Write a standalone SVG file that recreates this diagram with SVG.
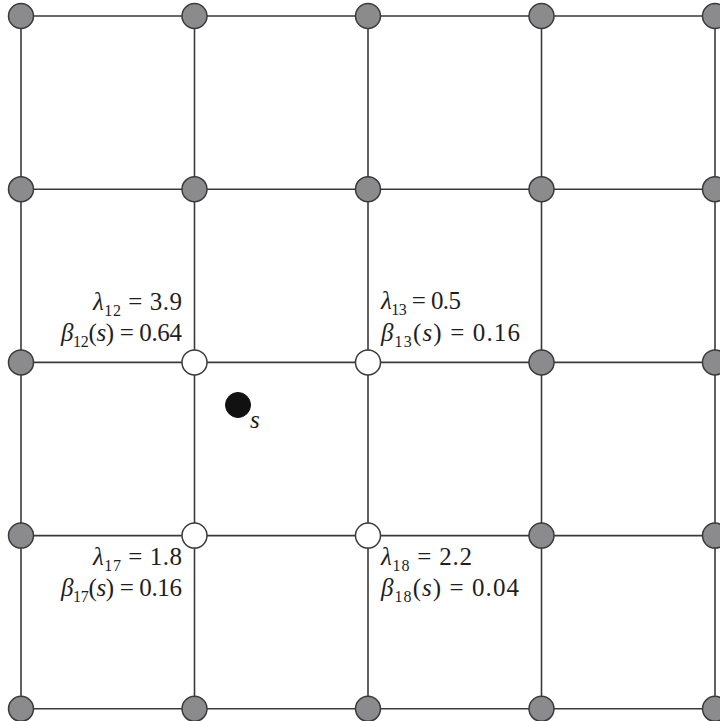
<svg xmlns="http://www.w3.org/2000/svg" width="720" height="721" viewBox="0 0 720 721">
<style>
.ln{stroke:#3a3a3a;stroke-width:1.6;fill:none}
.g{fill:#8b8b8d;stroke:#3a3a3a;stroke-width:1.5}
.w{fill:#fff;stroke:#3a3a3a;stroke-width:1.5}
.b{fill:#111;stroke:#111;stroke-width:1}
.t{font-family:"Liberation Serif","Times New Roman",serif;font-size:25px;fill:#1e1e1e}
.i{font-style:italic}
.sub{font-size:16px}
</style>
<rect width="720" height="721" fill="#fff"/>
<g id="connectors">
<path class="ln" d="M21 16H715M21 189.2H715M21 362.4H715M21 535.6H715M21 708.8H715"/>
<path class="ln" d="M21 16V708.8M194.5 16V708.8M368 16V708.8M541.5 16V708.8M715 16V708.8"/>
</g>
<g id="r0">
<circle id="n0" class="g" cx="21" cy="16" r="12.5"/>
<circle id="n1" class="g" cx="194.5" cy="16" r="12.5"/>
<circle id="n2" class="g" cx="368" cy="16" r="12.5"/>
<circle id="n3" class="g" cx="541.5" cy="16" r="12.5"/>
<circle id="n4" class="g" cx="715" cy="16" r="12.5"/>
</g>
<g id="r1">
<circle id="n5" class="g" cx="21" cy="189.2" r="12.5"/>
<circle id="n6" class="g" cx="194.5" cy="189.2" r="12.5"/>
<circle id="n7" class="g" cx="368" cy="189.2" r="12.5"/>
<circle id="n8" class="g" cx="541.5" cy="189.2" r="12.5"/>
<circle id="n9" class="g" cx="715" cy="189.2" r="12.5"/>
</g>
<g id="r2">
<circle id="n10" class="g" cx="21" cy="362.4" r="12.5"/>
<g id="n12"><circle class="w" cx="194.5" cy="362.4" r="12.5"/>
<text class="t" x="93" y="310" textLength="89" lengthAdjust="spacing"><tspan class="i">λ</tspan><tspan class="sub" dy="6">12</tspan><tspan dy="-6"> = 3.9</tspan></text>
<text class="t" x="61" y="341" textLength="121" lengthAdjust="spacing"><tspan class="i">β</tspan><tspan class="sub" dy="6">12</tspan><tspan dy="-6">(</tspan><tspan class="i">s</tspan>) = 0.64</text>
</g>
<g id="n13"><circle class="w" cx="368" cy="362.4" r="12.5"/>
<text class="t" x="381" y="309" textLength="80" lengthAdjust="spacing"><tspan class="i">λ</tspan><tspan class="sub" dy="6">13</tspan><tspan dy="-6"> = 0.5</tspan></text>
<text class="t" x="381" y="341" textLength="139" lengthAdjust="spacing"><tspan class="i">β</tspan><tspan class="sub" dy="6">13</tspan><tspan dy="-6">(</tspan><tspan class="i">s</tspan>) = 0.16</text>
</g>
<circle id="n14" class="g" cx="541.5" cy="362.4" r="12.5"/>
<circle id="n15" class="g" cx="715" cy="362.4" r="12.5"/>
</g>
<g id="s">
<circle class="b" cx="238" cy="405" r="12.5"/>
<text class="t i" x="250" y="428" font-size="20">s</text>
</g>
<g id="r3">
<circle id="n16" class="g" cx="21" cy="535.6" r="12.5"/>
<g id="n17"><circle class="w" cx="194.5" cy="535.6" r="12.5"/>
<text class="t" x="93" y="565" textLength="89" lengthAdjust="spacing"><tspan class="i">λ</tspan><tspan class="sub" dy="6">17</tspan><tspan dy="-6"> = 1.8</tspan></text>
<text class="t" x="61" y="596" textLength="121" lengthAdjust="spacing"><tspan class="i">β</tspan><tspan class="sub" dy="6">17</tspan><tspan dy="-6">(</tspan><tspan class="i">s</tspan>) = 0.16</text>
</g>
<g id="n18"><circle class="w" cx="368" cy="535.6" r="12.5"/>
<text class="t" x="381" y="565" textLength="91" lengthAdjust="spacing"><tspan class="i">λ</tspan><tspan class="sub" dy="6">18</tspan><tspan dy="-6"> = 2.2</tspan></text>
<text class="t" x="381" y="596" textLength="138" lengthAdjust="spacing"><tspan class="i">β</tspan><tspan class="sub" dy="6">18</tspan><tspan dy="-6">(</tspan><tspan class="i">s</tspan>) = 0.04</text>
</g>
<circle id="n19" class="g" cx="541.5" cy="535.6" r="12.5"/>
<circle id="n20" class="g" cx="715" cy="535.6" r="12.5"/>
</g>
<g id="r4">
<circle id="n21" class="g" cx="21" cy="708.8" r="12.5"/>
<circle id="n22" class="g" cx="194.5" cy="708.8" r="12.5"/>
<circle id="n23" class="g" cx="368" cy="708.8" r="12.5"/>
<circle id="n24" class="g" cx="541.5" cy="708.8" r="12.5"/>
<circle id="n25" class="g" cx="715" cy="708.8" r="12.5"/>
</g>
</svg>
